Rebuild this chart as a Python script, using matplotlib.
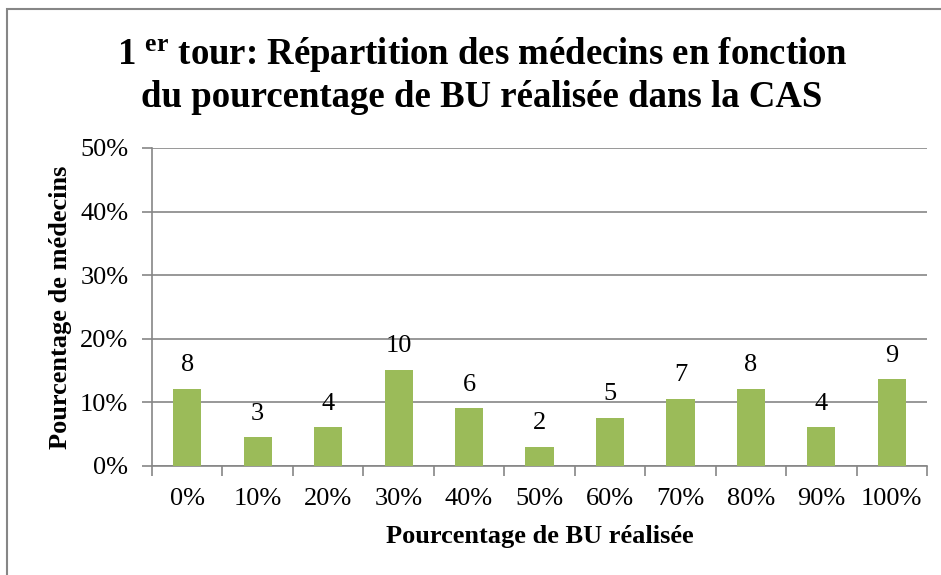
import matplotlib
matplotlib.use("Agg")
import matplotlib.pyplot as plt
from matplotlib.patches import Rectangle
from matplotlib.ticker import FixedLocator, NullFormatter

plt.rcParams['font.family'] = ['Liberation Serif', 'DejaVu Serif']
plt.rcParams['mathtext.fontset'] = 'custom'
plt.rcParams['mathtext.rm'] = 'Liberation Serif'
plt.rcParams['mathtext.bf'] = 'Liberation Serif:bold'

categories = ['0%', '10%', '20%', '30%', '40%', '50%', '60%', '70%', '80%', '90%', '100%']
counts = [8, 3, 4, 10, 6, 2, 5, 7, 8, 4, 9]
total = sum(counts)
percents = [c / total for c in counts]
yticks = [0, 0.1, 0.2, 0.3, 0.4, 0.5]
ytick_labels = ['0%', '10%', '20%', '30%', '40%', '50%']

fig = plt.figure(figsize=(9.41, 5.75), dpi=100)
ax = fig.add_axes([152/941, 1-466/575, (927-152)/941, (466-148)/575])

gray = '#868686'
fs = 19
x = list(range(len(categories)))
ax.bar(x, percents, width=0.4, color='#9BBB59', zorder=3)
for xi, p, c in zip(x, percents, counts):
    ax.annotate(str(c), (xi, p), xytext=(0, 9), textcoords='offset points',
                ha='center', va='bottom', fontsize=fs)

ax.set_xlim(-0.5, len(categories) - 0.5)
ax.set_ylim(0, 0.5)
ax.set_yticks(yticks)
ax.set_yticklabels(ytick_labels, fontsize=fs)
ax.set_xticks(x)
ax.set_xticklabels(categories, fontsize=fs)
ax.tick_params(axis='x', which='major', length=0, pad=16)
ax.xaxis.set_minor_locator(FixedLocator([i - 0.5 for i in range(len(categories) + 1)]))
ax.xaxis.set_minor_formatter(NullFormatter())
ax.tick_params(axis='x', which='minor', length=7, color=gray, width=1.2)
ax.tick_params(axis='y', length=7, color=gray, width=1.2, pad=10)
ax.yaxis.grid(True, color=gray, linewidth=1.2, zorder=0)
ax.set_axisbelow(True)
for s in ['top', 'right']:
    ax.spines[s].set_visible(False)
for s in ['left', 'bottom']:
    ax.spines[s].set_color(gray)
    ax.spines[s].set_linewidth(1.2)

ax.set_xlabel('Pourcentage de BU réalisée', fontsize=fs, fontweight='bold', va='center')
ax.set_ylabel('Pourcentage de médecins', fontsize=fs, fontweight='bold', va='center')
ax.xaxis.set_label_coords(0.5, (466 - 537) / 318)
ax.yaxis.set_label_coords((61 - 152) / 775, 0.5)

fig.text(482/941, 1-55/575, r'1 $\mathbf{^{er}}$ tour: Répartition des médecins en fonction',
         ha='center', va='center', fontsize=26.5, fontweight='bold')
fig.text(482/941, 1-98/575, 'du pourcentage de BU réalisée dans la CAS',
         ha='center', va='center', fontsize=26.5, fontweight='bold')

fig.patches.append(Rectangle((7/941, -0.05), 1.2, 1 - 9/575 + 0.05, transform=fig.transFigure,
                             fill=False, edgecolor=gray, linewidth=1.5))

fig.savefig('out.png', dpi=100)
